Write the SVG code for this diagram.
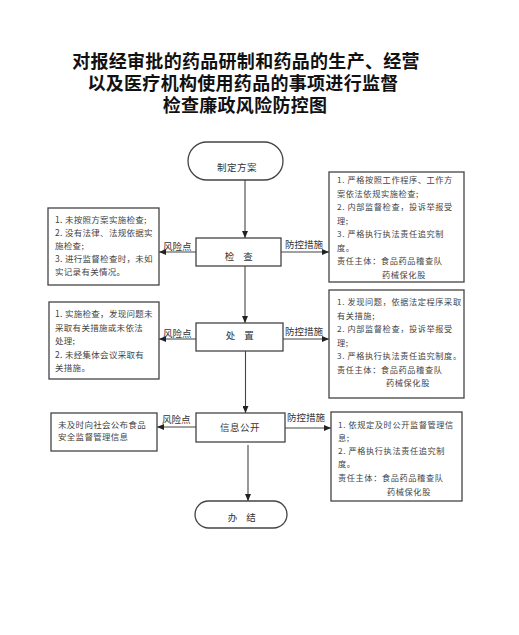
<svg xmlns="http://www.w3.org/2000/svg" width="519" height="635" viewBox="0 0 519 635">
<style>
.title{font-family:"Liberation Sans","Noto Sans CJK SC",sans-serif;font-size:18px;font-weight:700;fill:#111;text-anchor:middle;letter-spacing:0.3px}
.box{fill:#fff;stroke:#444;stroke-width:1.3}
.node{font-family:"Noto Sans CJK SC","Liberation Sans",sans-serif;font-size:9.5px;fill:#333;text-anchor:middle;letter-spacing:0.5px;word-spacing:6px}
.lbl{font-family:"Noto Sans CJK SC","Liberation Sans",sans-serif;font-size:9.5px;fill:#333}
.tl{font-family:"Noto Sans CJK SC","Liberation Sans",sans-serif;font-size:8.5px;fill:#444;letter-spacing:0.3px}
.tr{font-family:"Noto Sans CJK SC","Liberation Sans",sans-serif;font-size:8.2px;fill:#444;letter-spacing:0.6px}
.conn{stroke:#444;stroke-width:1.1;fill:none;marker-end:url(#ah)}
</style>
<defs>
<marker id="ah" markerUnits="userSpaceOnUse" markerWidth="7" markerHeight="6" refX="7" refY="3" orient="auto">
<path d="M0,0 L7,3 L0,6 z" fill="#222"/>
</marker>
</defs>
<rect width="519" height="635" fill="#fff"/>
<g id="title">
<text class="title" x="246" y="68">对报经审批的药品研制和药品的生产、经营</text>
<text class="title" x="243" y="90">以及医疗机构使用药品的事项进行监督</text>
<text class="title" x="245" y="111.5">检查廉政风险防控图</text>
</g>
<g id="connectors">
<line class="conn" x1="245" y1="180" x2="245" y2="238"/>
<line class="conn" x1="245" y1="266" x2="245" y2="323"/>
<line class="conn" x1="245.5" y1="351" x2="245.5" y2="413"/>
<line class="conn" x1="248" y1="445" x2="248" y2="501"/>
<line class="conn" x1="196" y1="252" x2="159" y2="252"/>
<line class="conn" x1="281" y1="252" x2="329" y2="252"/>
<line class="conn" x1="196" y1="339" x2="159" y2="339"/>
<line class="conn" x1="283" y1="339" x2="329" y2="339"/>
<line class="conn" x1="196" y1="427" x2="157" y2="427"/>
<line class="conn" x1="285" y1="428" x2="331" y2="428"/>
<text class="lbl" x="163" y="250">风险点</text>
<text class="lbl" x="285" y="248">防控措施</text>
<text class="lbl" x="163" y="337">风险点</text>
<text class="lbl" x="285" y="335">防控措施</text>
<text class="lbl" x="162" y="423">风险点</text>
<text class="lbl" x="287" y="421">防控措施</text>
</g>
<g id="start">
<rect class="box" x="188" y="142" width="95" height="38" rx="19"/>
<text class="node" x="237" y="170.5">制定方案</text>
</g>
<g id="check">
<rect class="box" x="196" y="238" width="85" height="28"/>
<text class="node" x="239" y="260">检 查</text>
</g>
<g id="handle">
<rect class="box" x="196" y="323" width="87" height="28"/>
<text class="node" x="240" y="338.5">处 置</text>
</g>
<g id="publish">
<rect class="box" x="196" y="413" width="89" height="29"/>
<text class="node" x="240" y="430.5">信息公开</text>
</g>
<g id="end">
<rect class="box" x="195" y="501" width="92" height="27" rx="13.5"/>
<text class="node" x="242" y="520.5">办 结</text>
</g>
<g id="risk1">
<rect class="box" x="48" y="208" width="111" height="77"/>
<text class="tl" x="55" y="223">1. 未按照方案实施检查;</text>
<text class="tl" x="55" y="236">2. 没有法律、法规依据实</text>
<text class="tl" x="55" y="249">施检查;</text>
<text class="tl" x="55" y="262">3. 进行监督检查时，未如</text>
<text class="tl" x="55" y="275">实记录有关情况。</text>
</g>
<g id="risk2">
<rect class="box" x="49" y="302" width="110" height="77"/>
<text class="tl" x="55" y="317">1. 实施检查，发现问题未</text>
<text class="tl" x="55" y="330.5">采取有关措施或未依法</text>
<text class="tl" x="55" y="344">处理;</text>
<text class="tl" x="55" y="357.5">2. 未经集体会议采取有</text>
<text class="tl" x="55" y="371">关措施。</text>
</g>
<g id="risk3">
<rect class="box" x="51" y="413" width="106" height="38"/>
<text class="tl" x="58" y="428">未及时向社会公布食品</text>
<text class="tl" x="58" y="440">安全监督管理信息</text>
</g>
<g id="measure1">
<rect class="box" x="329" y="172" width="135" height="110"/>
<text class="tr" x="337" y="183">1. 严格按照工作程序、工作方</text>
<text class="tr" x="337" y="196.5">案依法依规实施检查;</text>
<text class="tr" x="337" y="210">2. 内部监督检查，投诉举报受</text>
<text class="tr" x="337" y="223.5">理;</text>
<text class="tr" x="337" y="237">3. 严格执行执法责任追究制</text>
<text class="tr" x="337" y="250.5">度。</text>
<text class="tr" x="337" y="264">责任主体：食品药品稽查队</text>
<text class="tr" x="382" y="277.5">药械保化股</text>
</g>
<g id="measure2">
<rect class="box" x="329" y="290" width="135" height="108"/>
<text class="tr" x="337" y="305">1. 发现问题，依据法定程序采取</text>
<text class="tr" x="337" y="318.5">有关措施;</text>
<text class="tr" x="337" y="332">2. 内部监督检查，投诉举报受</text>
<text class="tr" x="337" y="345.5">理;</text>
<text class="tr" x="337" y="359">3. 严格执行执法责任追究制度。</text>
<text class="tr" x="337" y="372.5">责任主体：食品药品稽查队</text>
<text class="tr" x="386" y="386">药械保化股</text>
</g>
<g id="measure3">
<rect class="box" x="331" y="412" width="131" height="89"/>
<text class="tr" x="338" y="428">1. 依规定及时公开监督管理信</text>
<text class="tr" x="338" y="440.5">息;</text>
<text class="tr" x="338" y="453.5">2.  严格执行执法责任追究制</text>
<text class="tr" x="338" y="467">度。</text>
<text class="tr" x="338" y="480.5">责任主体：食品药品稽查队</text>
<text class="tr" x="387" y="495">药械保化股</text>
</g>
</svg>
